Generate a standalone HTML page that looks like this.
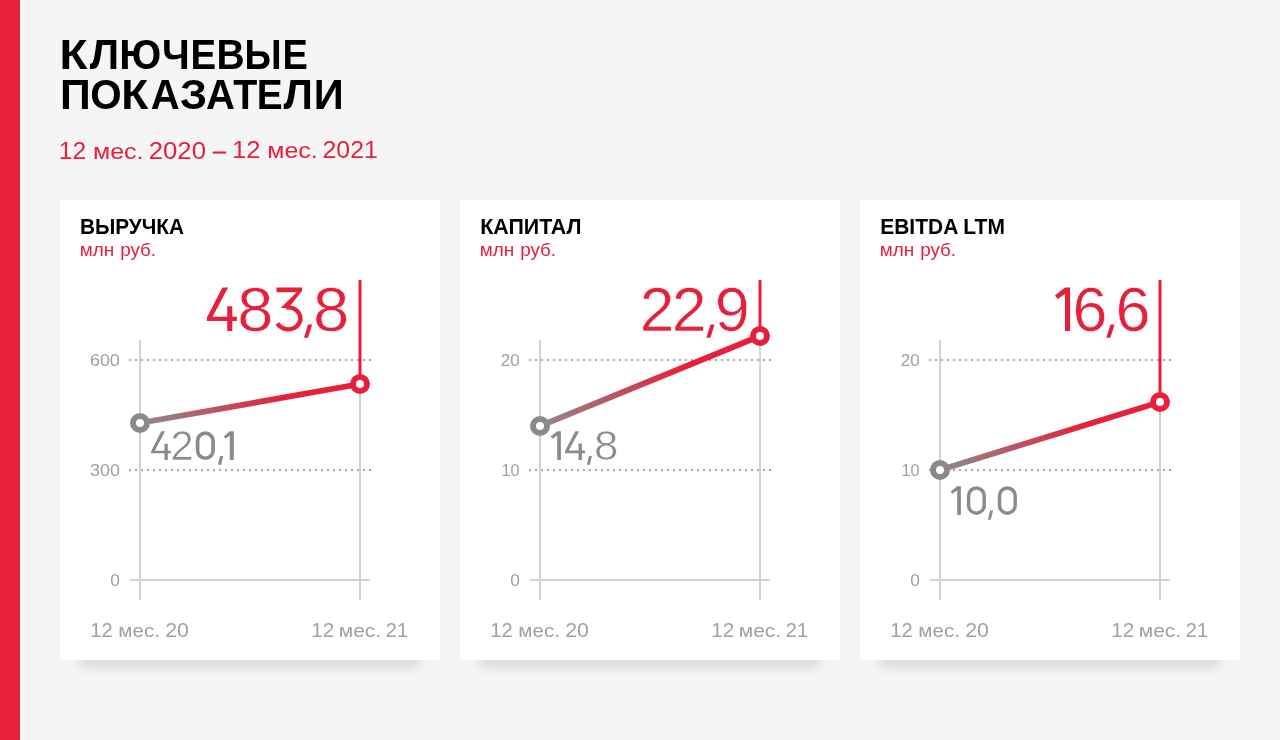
<!DOCTYPE html>
<html><head><meta charset="utf-8"><style>
*{margin:0;padding:0}
html,body{width:1280px;height:740px;overflow:hidden;background:#f5f5f5;font-family:"Liberation Sans",sans-serif}
.bar{position:absolute;left:0;top:0;width:20px;height:740px;background:#e61f3b}
.card{position:absolute;top:200px;width:380px;height:460px;background:#fff;box-shadow:0 28px 10px -20px rgba(0,0,0,0.11)}
svg{position:absolute;left:0;top:0;will-change:transform}
</style></head><body>
<div class="bar"></div>
<div class="card" style="left:60px"></div>
<div class="card" style="left:460px"></div>
<div class="card" style="left:860px"></div>
<svg width="1280" height="740" viewBox="0 0 1280 740" font-family="Liberation Sans, sans-serif">
<defs>
<linearGradient id="lg0" gradientUnits="userSpaceOnUse" x1="140" y1="423" x2="360" y2="384"><stop offset="0" stop-color="#8c8c8c"/><stop offset="0.66" stop-color="#e61f3b"/></linearGradient>
<linearGradient id="lg1" gradientUnits="userSpaceOnUse" x1="540" y1="426" x2="760" y2="336"><stop offset="0" stop-color="#8c8c8c"/><stop offset="0.66" stop-color="#e61f3b"/></linearGradient>
<linearGradient id="lg2" gradientUnits="userSpaceOnUse" x1="940" y1="470" x2="1160" y2="402"><stop offset="0" stop-color="#8c8c8c"/><stop offset="0.66" stop-color="#e61f3b"/></linearGradient>
</defs>
<text transform="matrix(1.0945,0,0,1.0261,59.59,69.2)" font-size="42" font-weight="bold" fill="#000">К</text>
<text transform="matrix(0.9962,0,0,1.0261,89.75,69.2)" font-size="42" font-weight="bold" fill="#000">Л</text>
<text transform="matrix(0.9703,0,0,1.0261,119.33,69.2)" font-size="42" font-weight="bold" fill="#000">Ю</text>
<text transform="matrix(0.9388,0,0,1.0261,161.99,69.2)" font-size="42" font-weight="bold" fill="#000">Ч</text>
<text transform="matrix(0.9149,0,0,1.0261,190.48,69.2)" font-size="42" font-weight="bold" fill="#000">Е</text>
<text transform="matrix(0.9282,0,0,1.0261,216.55,69.2)" font-size="42" font-weight="bold" fill="#000">В</text>
<text transform="matrix(0.9014,0,0,1.0261,244.52,69.2)" font-size="42" font-weight="bold" fill="#000">Ы</text>
<text transform="matrix(0.9064,0,0,1.0261,282.61,69.2)" font-size="42" font-weight="bold" fill="#000">Е</text>
<text transform="matrix(1.0182,0,0,1.0087,59.90,109)" font-size="42" font-weight="bold" fill="#000">П</text>
<text transform="matrix(0.9607,0,0,1.0087,90.32,109)" font-size="42" font-weight="bold" fill="#000">О</text>
<text transform="matrix(1.0549,0,0,1.0087,121.30,109)" font-size="42" font-weight="bold" fill="#000">К</text>
<text transform="matrix(0.9540,0,0,1.0087,150.80,109)" font-size="42" font-weight="bold" fill="#000">А</text>
<text transform="matrix(1.0280,0,0,1.0087,179.97,109)" font-size="42" font-weight="bold" fill="#000">З</text>
<text transform="matrix(0.9558,0,0,1.0087,206.04,109)" font-size="42" font-weight="bold" fill="#000">А</text>
<text transform="matrix(0.9374,0,0,1.0087,233.13,109)" font-size="42" font-weight="bold" fill="#000">Т</text>
<text transform="matrix(0.9234,0,0,1.0087,256.66,109)" font-size="42" font-weight="bold" fill="#000">Е</text>
<text transform="matrix(0.9962,0,0,1.0087,283.55,109)" font-size="42" font-weight="bold" fill="#000">Л</text>
<text transform="matrix(0.9939,0,0,1.0087,313.87,109)" font-size="42" font-weight="bold" fill="#000">И</text>
<text transform="matrix(1.0062,0,0,0.9824,58.84,158.6)" font-size="24.5" font-weight="normal" fill="#e61f3b">12</text>
<text transform="matrix(1.022,0,0,0.883,92.96,158.6)" font-size="24.5" font-weight="normal" fill="#e61f3b">мес.</text>
<text transform="matrix(1.0526,0,0,0.9824,148.68,158.6)" font-size="24.5" font-weight="normal" fill="#e61f3b">2020</text>
<text transform="matrix(1.0433,0,0,0.9706,231.97,158.4)" font-size="24.5" font-weight="normal" fill="#e61f3b">12</text>
<text transform="matrix(1.0198,0,0,0.8679,267.22,158.4)" font-size="24.5" font-weight="normal" fill="#e61f3b">мес.</text>
<text transform="matrix(1.0154,0,0,0.9706,322.53,158.4)" font-size="24.5" font-weight="normal" fill="#e61f3b">2021</text>
<rect x="212.7" y="151.5" width="13.4" height="2.1" fill="#e61f3b"/>
<text transform="matrix(0.9664,0,0,1.0305,79.95,233.9)" font-size="21.5" font-weight="bold" fill="#000">ВЫРУЧКА</text>
<text transform="matrix(1.024,0,0,1.0,79.72,256.2)" font-size="18.5" font-weight="normal" fill="#e61f3b">млн</text>
<text transform="matrix(1.0171,0,0,0.9556,120.23,256.2)" font-size="18.5" font-weight="normal" fill="#e61f3b">руб.</text>
<line x1="129" y1="360" x2="371" y2="360" stroke="#a8a8a8" stroke-width="2" stroke-dasharray="2 4"/>
<line x1="129" y1="470" x2="371" y2="470" stroke="#a8a8a8" stroke-width="2" stroke-dasharray="2 4"/>
<line x1="140" y1="340" x2="140" y2="600" stroke="#d3d3d3" stroke-width="2"/>
<line x1="360" y1="340" x2="360" y2="600" stroke="#d3d3d3" stroke-width="2"/>
<line x1="130" y1="580" x2="370" y2="580" stroke="#d3d3d3" stroke-width="2"/>
<text transform="matrix(1.1168,0,0,1.0222,89.96,366.0)" font-size="16" font-weight="normal" fill="#a0a0a0">600</text>
<text transform="matrix(1.1208,0,0,1.0222,90.06,475.7)" font-size="16" font-weight="normal" fill="#a0a0a0">300</text>
<text transform="matrix(1.08,0,0,1.0133,110.19,585.7)" font-size="16" font-weight="normal" fill="#a0a0a0">0</text>
<text transform="matrix(0.9827,0,0,1.0246,90.23,636.9)" font-size="20.5" font-weight="normal" fill="#a0a0a0">12</text>
<text transform="matrix(1.0053,0,0,0.9364,118.29,636.9)" font-size="20.5" font-weight="normal" fill="#a0a0a0">мес.</text>
<text transform="matrix(1.0429,0,0,1.0246,165.16,636.9)" font-size="20.5" font-weight="normal" fill="#a0a0a0">20</text>
<text transform="matrix(1.0074,0,0,1.0246,311.19,636.9)" font-size="20.5" font-weight="normal" fill="#a0a0a0">12</text>
<text transform="matrix(1.0184,0,0,0.9364,338.87,636.9)" font-size="20.5" font-weight="normal" fill="#a0a0a0">мес.</text>
<text transform="matrix(0.9735,0,0,1.0246,385.83,636.9)" font-size="20.5" font-weight="normal" fill="#a0a0a0">21</text>
<line x1="360" y1="280" x2="360" y2="384" stroke="#e61f3b" stroke-width="3"/>
<line x1="140" y1="423" x2="360" y2="384" stroke="url(#lg0)" stroke-width="5.8"/>
<circle cx="140" cy="423" r="7" fill="#fff" stroke="#8a8a8a" stroke-width="6"/>
<circle cx="360" cy="384" r="7" fill="#fff" stroke="#e61f3b" stroke-width="6"/>
<path d="M222.35,287.60L228.05,287.60L212.60,316.83L236.90,316.83L236.90,320.88L206.90,320.88L206.90,317.62ZM227.24,306.31L232.25,306.31L232.25,331.10L227.24,331.10Z" fill="#e61f3b"/>
<text transform="matrix(1.0133,0,0,0.9855,237.21,331.40)" font-size="64" fill="#e61f3b" stroke="#fff" stroke-width="0.600">8</text>
<path d="M276.49,287.60L302.00,287.60L302.00,290.99L288.34,308.05L280.66,308.05L296.71,292.21L276.49,292.21Z" fill="#e61f3b"/>
<path d="M286.09,307.52A12.22,10.95 0 1 1 277.42,323.44" fill="none" stroke="#e61f3b" stroke-width="4.3"/>
<path d="M308.02,324.6L312.1,324.6L308.08,337.7L304,337.7Z" fill="#e61f3b"/>
<text transform="matrix(1.0200,0,0,0.9855,313.09,331.40)" font-size="64" fill="#e61f3b" stroke="#fff" stroke-width="0.598">8</text>
<path d="M161.27,431.30L165.02,431.30L154.85,450.65L170.85,450.65L170.85,453.33L151.10,453.33L151.10,451.17ZM164.49,443.68L167.79,443.68L167.79,460.10L164.49,460.10Z" fill="#8a8a8a"/>
<text transform="matrix(0.9922,0,0,1.0051,170.42,460.40)" font-size="42" fill="#8a8a8a" stroke="#fff" stroke-width="0.601">2</text>
<rect x="197.61" y="433.11" width="15.47" height="25.17" rx="7.74" ry="7.74" fill="none" stroke="#8a8a8a" stroke-width="3.63"/>
<path d="M220.08,456L223.2,456L221.12,464.8L218,464.8Z" fill="#8a8a8a"/>
<path d="M229.8,431.3L233.8,431.3L233.8,460.1L229.8,460.1L229.8,435.58L225.64,438.87L223.8,436.50Z" fill="#8a8a8a"/>
<text transform="matrix(0.9949,0,0,1.0373,480.21,234.2)" font-size="21.5" font-weight="bold" fill="#000">КАПИТАЛ</text>
<text transform="matrix(1.024,0,0,1.0,479.72,256.2)" font-size="18.5" font-weight="normal" fill="#e61f3b">млн</text>
<text transform="matrix(1.0171,0,0,0.9556,520.23,256.2)" font-size="18.5" font-weight="normal" fill="#e61f3b">руб.</text>
<line x1="529" y1="360" x2="771" y2="360" stroke="#a8a8a8" stroke-width="2" stroke-dasharray="2 4"/>
<line x1="529" y1="470" x2="771" y2="470" stroke="#a8a8a8" stroke-width="2" stroke-dasharray="2 4"/>
<line x1="540" y1="340" x2="540" y2="600" stroke="#d3d3d3" stroke-width="2"/>
<line x1="760" y1="340" x2="760" y2="600" stroke="#d3d3d3" stroke-width="2"/>
<line x1="530" y1="580" x2="770" y2="580" stroke="#d3d3d3" stroke-width="2"/>
<text transform="matrix(1.0545,0,0,1.0489,500.81,366.0)" font-size="16" font-weight="normal" fill="#a0a0a0">20</text>
<text transform="matrix(1.0125,0,0,1.0133,501.53,475.9)" font-size="16" font-weight="normal" fill="#a0a0a0">10</text>
<text transform="matrix(1.08,0,0,1.0133,510.19,585.7)" font-size="16" font-weight="normal" fill="#a0a0a0">0</text>
<text transform="matrix(0.9827,0,0,1.0246,490.23,636.9)" font-size="20.5" font-weight="normal" fill="#a0a0a0">12</text>
<text transform="matrix(1.0053,0,0,0.9364,518.29,636.9)" font-size="20.5" font-weight="normal" fill="#a0a0a0">мес.</text>
<text transform="matrix(1.0429,0,0,1.0246,565.16,636.9)" font-size="20.5" font-weight="normal" fill="#a0a0a0">20</text>
<text transform="matrix(1.0074,0,0,1.0246,711.19,636.9)" font-size="20.5" font-weight="normal" fill="#a0a0a0">12</text>
<text transform="matrix(1.0184,0,0,0.9364,738.87,636.9)" font-size="20.5" font-weight="normal" fill="#a0a0a0">мес.</text>
<text transform="matrix(0.9735,0,0,1.0246,785.83,636.9)" font-size="20.5" font-weight="normal" fill="#a0a0a0">21</text>
<line x1="760" y1="280" x2="760" y2="336" stroke="#e61f3b" stroke-width="3"/>
<line x1="540" y1="426" x2="760" y2="336" stroke="url(#lg1)" stroke-width="5.8"/>
<circle cx="540" cy="426" r="7" fill="#fff" stroke="#8a8a8a" stroke-width="6"/>
<circle cx="760" cy="336" r="7" fill="#fff" stroke="#e61f3b" stroke-width="6"/>
<text transform="matrix(0.9724,0,0,0.9855,639.74,331.40)" font-size="64" fill="#e61f3b" stroke="#fff" stroke-width="0.613">2</text>
<text transform="matrix(0.9793,0,0,0.9855,671.82,331.40)" font-size="64" fill="#e61f3b" stroke="#fff" stroke-width="0.611">2</text>
<path d="M710.42,324.6L714.5,324.6L710.48,337.7L706.4,337.7Z" fill="#e61f3b"/>
<text transform="matrix(0.9831,0,0,0.9855,714.85,331.40)" font-size="64" fill="#e61f3b" stroke="#fff" stroke-width="0.610">9</text>
<path d="M557.2,431.3L560.9,431.3L560.9,459.9L557.2,459.9L557.2,435.55L552.43,438.82L550.6,436.46Z" fill="#8a8a8a"/>
<path d="M575.30,431.30L579.10,431.30L568.80,450.52L585.00,450.52L585.00,453.18L565.00,453.18L565.00,451.03ZM578.56,443.60L581.90,443.60L581.90,459.90L578.56,459.90Z" fill="#8a8a8a"/>
<path d="M588.94,456L591.9,456L589.86,464.7L586.9,464.7Z" fill="#8a8a8a"/>
<text transform="matrix(1.0430,0,0,0.9983,594.12,460.20)" font-size="42" fill="#8a8a8a" stroke="#fff" stroke-width="0.588">8</text>
<text transform="matrix(0.9756,0,0,1.0305,880.24,234.0)" font-size="21.5" font-weight="bold" fill="#000">EBITDA LTM</text>
<text transform="matrix(1.024,0,0,1.0,879.72,256.2)" font-size="18.5" font-weight="normal" fill="#e61f3b">млн</text>
<text transform="matrix(1.0171,0,0,0.9556,920.23,256.2)" font-size="18.5" font-weight="normal" fill="#e61f3b">руб.</text>
<line x1="929" y1="360" x2="1171" y2="360" stroke="#a8a8a8" stroke-width="2" stroke-dasharray="2 4"/>
<line x1="929" y1="470" x2="1171" y2="470" stroke="#a8a8a8" stroke-width="2" stroke-dasharray="2 4"/>
<line x1="940" y1="340" x2="940" y2="600" stroke="#d3d3d3" stroke-width="2"/>
<line x1="1160" y1="340" x2="1160" y2="600" stroke="#d3d3d3" stroke-width="2"/>
<line x1="930" y1="580" x2="1170" y2="580" stroke="#d3d3d3" stroke-width="2"/>
<text transform="matrix(1.0545,0,0,1.0489,900.81,366.0)" font-size="16" font-weight="normal" fill="#a0a0a0">20</text>
<text transform="matrix(1.0125,0,0,1.0133,901.53,475.9)" font-size="16" font-weight="normal" fill="#a0a0a0">10</text>
<text transform="matrix(1.08,0,0,1.0133,910.19,585.7)" font-size="16" font-weight="normal" fill="#a0a0a0">0</text>
<text transform="matrix(0.9827,0,0,1.0246,890.23,636.9)" font-size="20.5" font-weight="normal" fill="#a0a0a0">12</text>
<text transform="matrix(1.0053,0,0,0.9364,918.29,636.9)" font-size="20.5" font-weight="normal" fill="#a0a0a0">мес.</text>
<text transform="matrix(1.0429,0,0,1.0246,965.16,636.9)" font-size="20.5" font-weight="normal" fill="#a0a0a0">20</text>
<text transform="matrix(1.0074,0,0,1.0246,1111.19,636.9)" font-size="20.5" font-weight="normal" fill="#a0a0a0">12</text>
<text transform="matrix(1.0184,0,0,0.9364,1138.87,636.9)" font-size="20.5" font-weight="normal" fill="#a0a0a0">мес.</text>
<text transform="matrix(0.9735,0,0,1.0246,1185.83,636.9)" font-size="20.5" font-weight="normal" fill="#a0a0a0">21</text>
<line x1="1160" y1="280" x2="1160" y2="402" stroke="#e61f3b" stroke-width="3"/>
<line x1="940" y1="470" x2="1160" y2="402" stroke="url(#lg2)" stroke-width="5.8"/>
<circle cx="940" cy="470" r="7" fill="#fff" stroke="#8a8a8a" stroke-width="6"/>
<circle cx="1160" cy="402" r="7" fill="#fff" stroke="#e61f3b" stroke-width="6"/>
<path d="M1065,287.6L1070.1,287.6L1070.1,331.1L1065,331.1L1065,294.06L1057.68,299.03L1054.9,295.45Z" fill="#e61f3b"/>
<text transform="matrix(0.9797,0,0,0.9855,1072.52,331.40)" font-size="64" fill="#e61f3b" stroke="#fff" stroke-width="0.611">6</text>
<path d="M1110.42,324.6L1114.5,324.6L1110.43,337.7L1106.35,337.7Z" fill="#e61f3b"/>
<text transform="matrix(0.9831,0,0,0.9855,1115.41,331.40)" font-size="64" fill="#e61f3b" stroke="#fff" stroke-width="0.610">6</text>
<path d="M957.2,486.25L960.9,486.25L960.9,514.9L957.2,514.9L957.2,490.51L952.43,493.78L950.6,491.42Z" fill="#8a8a8a"/>
<rect x="968.62" y="487.97" width="15.56" height="25.21" rx="7.78" ry="7.78" fill="none" stroke="#8a8a8a" stroke-width="3.44"/>
<path d="M990.14,510.6L993.1,510.6L990.76,519.7L987.8,519.7Z" fill="#8a8a8a"/>
<rect x="999.52" y="487.97" width="15.66" height="25.21" rx="7.83" ry="7.83" fill="none" stroke="#8a8a8a" stroke-width="3.44"/>
</svg>
</body></html>
